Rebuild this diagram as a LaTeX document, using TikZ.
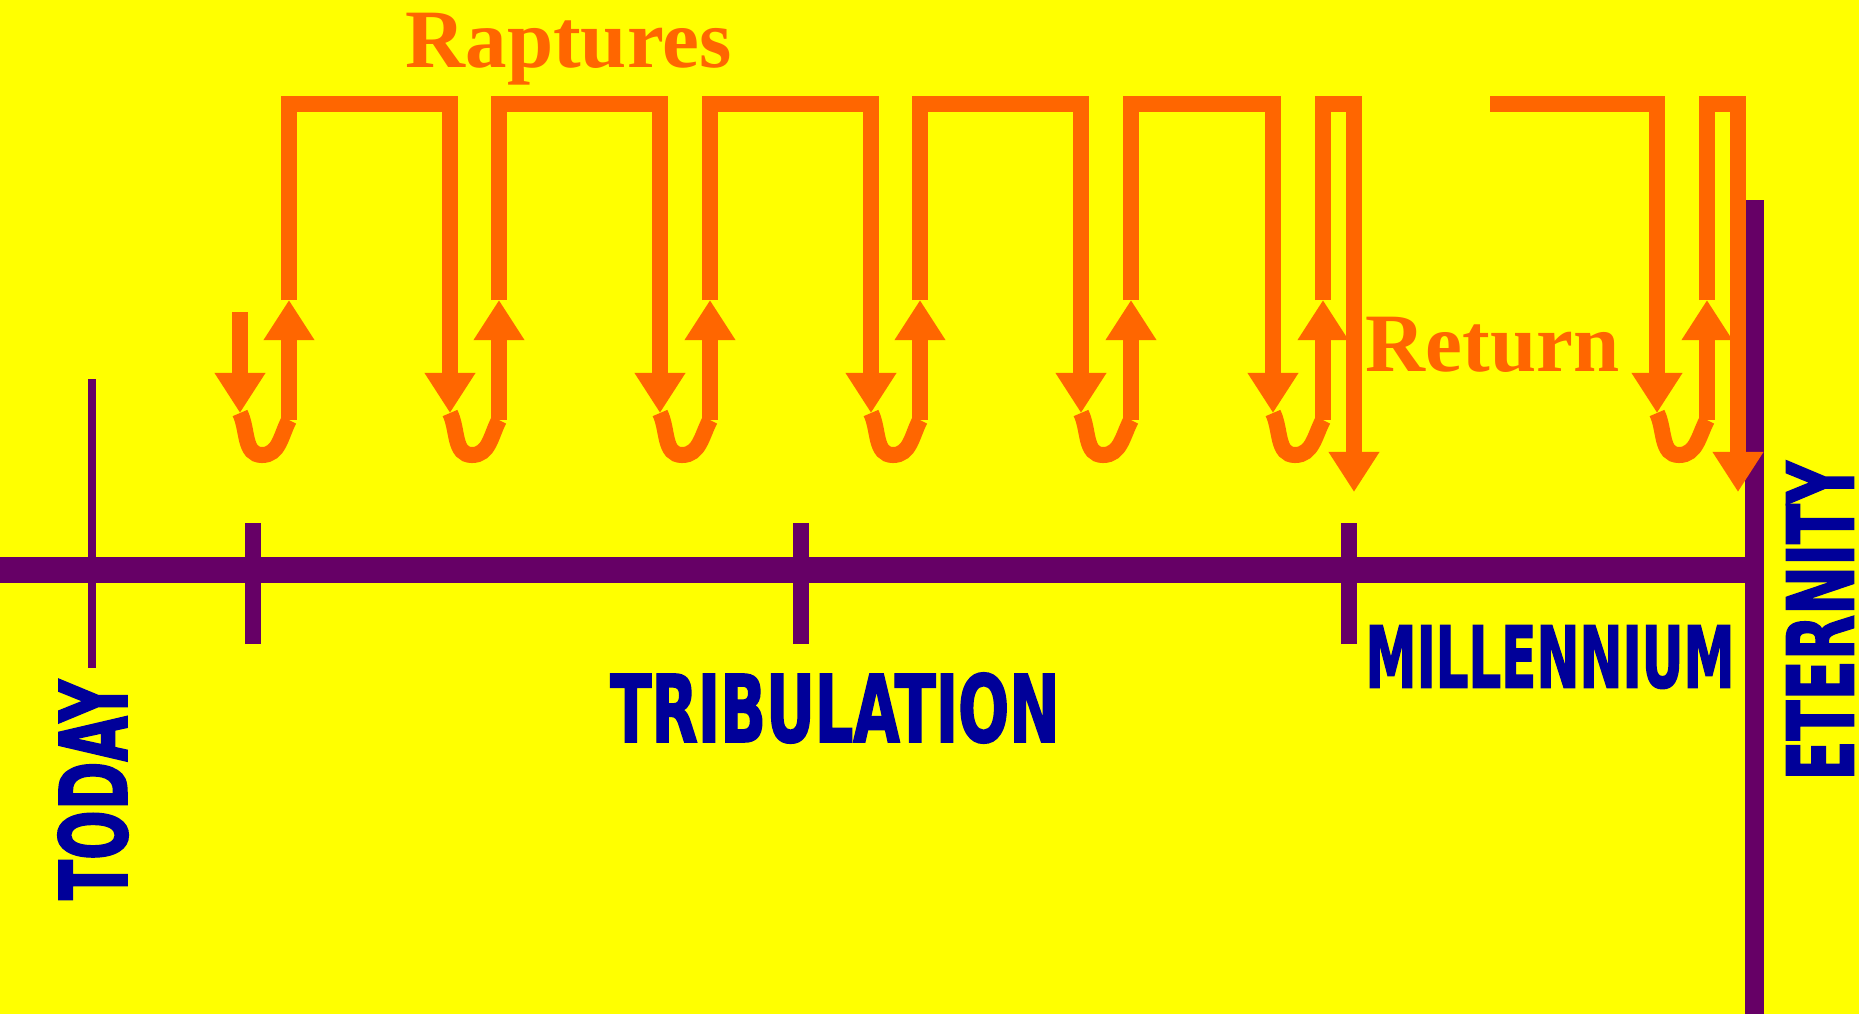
\documentclass[tikz,border=0pt]{standalone}
\usepackage{fontspec}
\setmainfont{Liberation Serif}
\newfontfamily\blockfont{DejaVu Sans Condensed}[FakeBold=2]
\usepackage{graphicx}
\usepackage{xcolor}
\usepackage{tikz}
\usetikzlibrary{arrows.meta}
\definecolor{tlyellow}{HTML}{FFFF00}
\definecolor{tlorange}{HTML}{FF6600}
\definecolor{tlpurple}{HTML}{660066}
\definecolor{tlblue}{HTML}{000099}
\newcommand{\blk}[3]{\resizebox{#1}{#2}{\blockfont\bfseries #3}}

\begin{document}
\begin{tikzpicture}[x=0.01cm,y=0.01cm,
	ora/.style={draw=tlorange,line width=0.16cm},
	oarr/.style={ora,-{Triangle[width=0.48cm,length=0.4cm]}},
	tl/.style={draw=tlpurple},
	lbl/.style={inner sep=0,text=tlblue}]
%  top  ---------   ---------   ...  --|   ------|  --|
%      |        |  |        |          |         |    |
%   v  ^        v  ^        v   ...    ^  v      ^    v
%    \_/         \_/                  _/   \_/        |
%  ----+------------------+--------------+------------|

	\useasboundingbox (0,0) rectangle (1859,-1014);
	\fill[tlyellow] (0,0) rectangle (1859,-1014);

	\coordinate (top) at (0,-104); \coordinate (low) at (0,-420);
	\coordinate (d0) at (240,-312);
	\coordinate (d1) at (240,-413);
	\coordinate (d2) at (450,-413);
	\coordinate (d3) at (660,-413);
	\coordinate (d4) at (871,-413);
	\coordinate (d5) at (1081,-413);
	\coordinate (d6) at (1273,-413);
	\coordinate (d7) at (1657,-413);
	\coordinate (u1) at (289,-300);
	\coordinate (u2) at (499,-300);
	\coordinate (u3) at (710,-300);
	\coordinate (u4) at (920,-300);
	\coordinate (u5) at (1131,-300);
	\coordinate (u6) at (1323,-300);
	\coordinate (u7) at (1707,-300);
	\coordinate (r1) at (1354,-492);
	\coordinate (r2) at (1738,-492);
	\coordinate (g) at (1490,-104);

	% time line
	\draw[tl,line width=0.26cm] (0,-570)--(1745,-570);
	\draw[tl,line width=0.16cm] (253,-523)--(253,-644) (801,-523)--(801,-644) (1349,-523)--(1349,-644);
	\draw[tl,line width=0.08cm] (92,-379)--(92,-668);
	\draw[tl,line width=0.19cm] (1754,-200)--(1754,-1014);

	% raptures
	\draw[oarr] (d0)--(d1);
	\draw[ora] (d1) to[out=-64,in=180] ++(22,-42) to[out=0,in=-118] (u1|-low);
	\draw[ora] (d2) to[out=-64,in=180] ++(22,-42) to[out=0,in=-118] (u2|-low);
	\draw[ora] (d3) to[out=-64,in=180] ++(22,-42) to[out=0,in=-118] (u3|-low);
	\draw[ora] (d4) to[out=-64,in=180] ++(22,-42) to[out=0,in=-118] (u4|-low);
	\draw[ora] (d5) to[out=-64,in=180] ++(22,-42) to[out=0,in=-118] (u5|-low);
	\draw[ora] (d6) to[out=-64,in=180] ++(22,-42) to[out=0,in=-118] (u6|-low);
	\draw[ora] (d7) to[out=-64,in=180] ++(22,-42) to[out=0,in=-118] (u7|-low);
	\draw[oarr] (u1|-low)--(u1); \draw[oarr] (u2|-low)--(u2);
	\draw[oarr] (u3|-low)--(u3); \draw[oarr] (u4|-low)--(u4);
	\draw[oarr] (u5|-low)--(u5); \draw[oarr] (u6|-low)--(u6);
	\draw[oarr] (u7|-low)--(u7);
	\draw[oarr] (u1)--(u1|-top)--(d2|-top)--(d2);
	\draw[oarr] (u2)--(u2|-top)--(d3|-top)--(d3);
	\draw[oarr] (u3)--(u3|-top)--(d4|-top)--(d4);
	\draw[oarr] (u4)--(u4|-top)--(d5|-top)--(d5);
	\draw[oarr] (u5)--(u5|-top)--(d6|-top)--(d6);
	\draw[oarr] (u6)--(u6|-top)--(r1|-top)--(r1);
	\draw[oarr] (g)--(d7|-top)--(d7);
	\draw[oarr] (u7)--(u7|-top)--(r2|-top)--(r2);

	\node[anchor=base west,inner sep=0,text=tlorange,font=\fontsize{23.6}{28}\selectfont\bfseries] (rapt) at (405,-67) {Raptures};
	\node[anchor=base west,inner sep=0,text=tlorange,font=\fontsize{23.6}{28}\selectfont\bfseries] (ret) at (1365,-371) {Return};

	\node[lbl,rotate=90] (today) at (93,-790) {\blk{2.2cm}{0.69cm}{TODAY}};
	\node[lbl] (trib) at (835,-708) {\blk{4.49cm}{0.69cm}{TRIBULATION}};
	\node[lbl] (mill) at (1550,-657) {\blk{3.69cm}{0.62cm}{MILLENNIUM}};
	\node[lbl,rotate=90] (eter) at (1820,-621) {\blk{3.19cm}{0.67cm}{ETERNITY}};
\end{tikzpicture}
\end{document}
